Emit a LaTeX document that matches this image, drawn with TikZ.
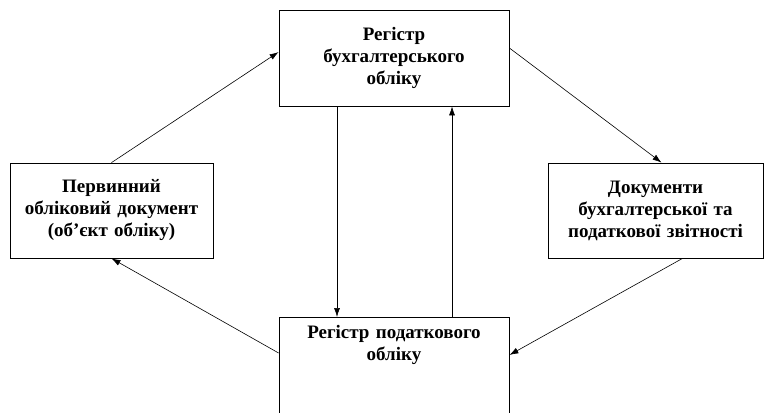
\documentclass[tikz,border=0pt]{standalone}
\usepackage{fontspec}
\setmainfont{Liberation Serif}
\usetikzlibrary{arrows.meta}

\begin{document}
\begin{tikzpicture}[x=1pt, y=-1pt, >={Latex[length=9pt,width=6pt]},
    every node/.style={rectangle, text centered, draw=black, line width=0.8pt,
      font=\fontsize{19}{22}\selectfont\bfseries, inner sep=2pt},
    link/.style={line width=0.6pt, ->}]

    \useasboundingbox (0,0) rectangle (767,412);
    \clip (0,0) rectangle (767,412);

    % Nodes
    \node (buh) [minimum width=230pt, minimum height=96pt, text width=220pt] at (394,58)
      {Регістр\\ бухгалтерського\\ обліку};

    \node (perv) [minimum width=203pt, minimum height=95pt, text width=199pt] at (111.5,210.5)
      {Первинний\\ обліковий документ\\ (об'єкт обліку)};

    \node (zvit) [minimum width=215pt, minimum height=95pt, text width=211pt] at (655.5,210.5)
      {Документи\\ бухгалтерської та\\ податкової звітності};

    \node (podreg) [minimum width=230pt, minimum height=120pt, anchor=north] at (394,317) {};
    \node (podtxt) [draw=none, text width=226pt, anchor=north] at ([yshift=-6pt]podreg.north)
      {Регістр податкового\\ обліку};

    % Arrows
    \draw[link] (perv.north) -- ([yshift=6pt]buh.west);
    \draw[link] ([yshift=10pt]buh.east) -- ([xshift=6pt]zvit.north);
    \draw[link] ([xshift=27pt]zvit.south) -- ([yshift=-38pt]podreg.north east);
    \draw[link] ([yshift=-36pt]podreg.north west) -- (perv.south);
    \draw[link] ([xshift=-57pt]buh.south) -- ([xshift=-57pt]podreg.north);
    \draw[link] ([xshift=58pt]podreg.north) -- ([xshift=58pt]buh.south);

\end{tikzpicture}
\end{document}
